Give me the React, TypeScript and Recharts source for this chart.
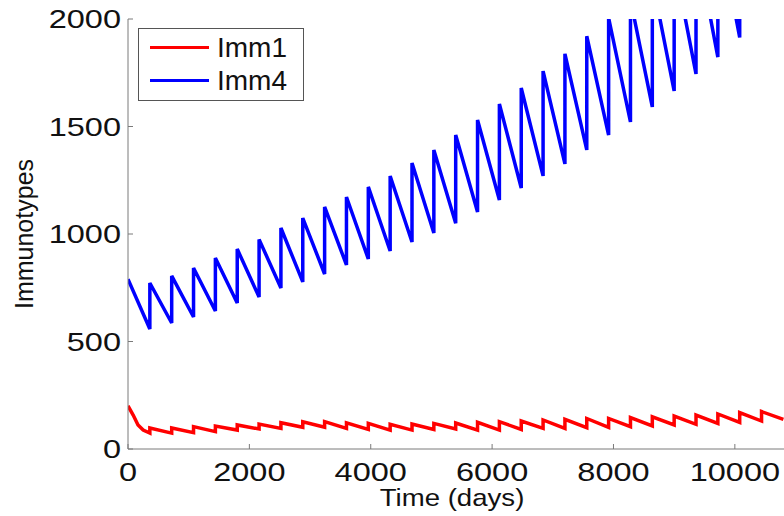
import React from "react";
import { LineChart, Line, XAxis, YAxis, Legend } from "recharts";

// one boost per cycle (days)
const cycleDays = 360;
const cycles = [1, 2, 3, 4, 5, 6, 7, 8, 9, 10, 11, 12, 13, 14, 15, 16, 17, 18, 19, 20, 21, 22, 23, 24, 25, 26, 27, 28, 29, 30];

const xTicks = [0, 2000, 4000, 6000, 8000, 10000];
const yTicks = [0, 500, 1000, 1500, 2000];

// Imm4: value at t=0, then value just before / just after each boost
const imm4Start = 790;
const imm4Before = [558, 586, 614, 642, 679, 707, 749, 777, 814, 856, 884, 921, 963, 1005, 1050, 1102, 1158, 1214, 1270, 1326, 1391, 1460, 1521, 1591, 1665, 1744, 1823, 1914, 2010, 2110];
const imm4After = [772, 805, 842, 888, 930, 975, 1028, 1074, 1126, 1172, 1219, 1270, 1330, 1391, 1460, 1530, 1605, 1679, 1758, 1838, 1920, 2005, 2090, 2180, 2270, 2360, 2450, 2550, 2650];

// Imm1: initial decay, then before / after each boost
const imm1StartDays = [0, 85, 165, 250];
const imm1StartValues = [201, 158, 112, 88];
const imm1Before = [74, 74, 76, 81, 88, 93, 96, 101, 101, 96, 91, 88, 88, 91, 93, 88, 88, 91, 96, 96, 99, 101, 104, 107, 112, 115, 119, 124, 130, 138];
const imm1After = [98, 98, 104, 107, 112, 116, 122, 127, 127, 122, 119, 115, 116, 119, 121, 124, 127, 130, 135, 138, 142, 142, 146, 150, 153, 158, 163, 169, 174];

type Pt = { t: number; v: number };

const buildSeries = (head: Pt[], before: number[], after: number[]): Pt[] => {
  const out: Pt[] = [...head];
  cycles.forEach((k, i) => {
    const t = k * cycleDays;
    if (before[i] !== undefined) out.push({ t, v: before[i] });
    if (after[i] !== undefined) out.push({ t, v: after[i] });
  });
  return out;
};

const imm1Data = buildSeries(
  imm1StartDays.map((t, i) => ({ t, v: imm1StartValues[i] })),
  imm1Before,
  imm1After
);
const imm4Data = buildSeries([{ t: 0, v: imm4Start }], imm4Before, imm4After);

const FONT = "'Liberation Sans', Arial, sans-serif";
const AXIS = "#7a7a7a";

const XTick = (props: any) => {
  const { x, y, payload } = props;
  return (
    <text
      transform={`translate(${x},${y}) scale(1.3,1)`}
      textAnchor="middle"
      dy="0.72em"
      fontSize={25}
      fontFamily={FONT}
      fill="#111"
    >
      {payload.value}
    </text>
  );
};

const YTick = (props: any) => {
  const { x, y, payload } = props;
  return (
    <text
      transform={`translate(${x},${y}) scale(1.3,1)`}
      textAnchor="end"
      dy="0.36em"
      fontSize={25}
      fontFamily={FONT}
      fill="#111"
    >
      {payload.value}
    </text>
  );
};

const LegendBox = (props: any) => {
  const items = props.payload || [];
  return (
    <div
      style={{
        width: 166,
        height: 73,
        boxSizing: "border-box",
        border: "1px solid #555",
        background: "#fff",
        paddingTop: 2,
        fontFamily: FONT,
      }}
    >
      {items.map((it: any) => (
        <div key={it.value} style={{ height: 33, display: "flex", alignItems: "center" }}>
          <div style={{ marginLeft: 11, width: 59, height: 3, background: it.color }} />
          <span style={{ marginLeft: 8, fontSize: 28, color: "#111", lineHeight: "33px" }}>{it.value}</span>
        </div>
      ))}
    </div>
  );
};

export default function App() {
  return (
    <div style={{ position: "absolute", left: 0, top: 0, background: "#fff" }}>
      <LineChart width={784} height={516} margin={{ top: 19, right: 0, bottom: 0, left: 0 }}>
        <XAxis
          type="number"
          dataKey="t"
          domain={[0, 10810]}
          allowDataOverflow
          ticks={xTicks}
          interval={0}
          height={67}
          stroke={AXIS}
          tickSize={-5}
          tickMargin={19}
          tick={<XTick />}
          label={{
            content: (p: any) => {
              const vb = p.viewBox;
              return (
                <text
                  transform={`translate(${vb.x + vb.width / 2 - 4},${vb.y + 57}) scale(1.15,1)`}
                  textAnchor="middle"
                  fontSize={24}
                  fontFamily={FONT}
                  fill="#111"
                >
                  Time (days)
                </text>
              );
            },
          }}
        />
        <YAxis
          type="number"
          domain={[0, 2000]}
          allowDataOverflow
          ticks={yTicks}
          interval={0}
          width={128}
          stroke={AXIS}
          tickSize={-5}
          tickMargin={12}
          tick={<YTick />}
          label={{
            content: (p: any) => {
              const vb = p.viewBox;
              return (
                <text
                  transform={`translate(${vb.x + 33},${vb.y + vb.height / 2}) rotate(-90)`}
                  textAnchor="middle"
                  fontSize={25}
                  fontFamily={FONT}
                  fill="#111"
                >
                  Immunotypes
                </text>
              );
            },
          }}
        />
        <Legend
          layout="vertical"
          align="center"
          verticalAlign="middle"
          content={<LegendBox />}
          wrapperStyle={{ left: 138, top: 28, width: 166 }}
        />
        <Line
          name="Imm1"
          data={imm1Data}
          dataKey="v"
          type="linear"
          stroke="#ff0000"
          strokeWidth={3.5}
          dot={false}
          activeDot={false}
          isAnimationActive={false}
        />
        <Line
          name="Imm4"
          data={imm4Data}
          dataKey="v"
          type="linear"
          stroke="#0000ff"
          strokeWidth={3.5}
          dot={false}
          activeDot={false}
          isAnimationActive={false}
        />
      </LineChart>
    </div>
  );
}
